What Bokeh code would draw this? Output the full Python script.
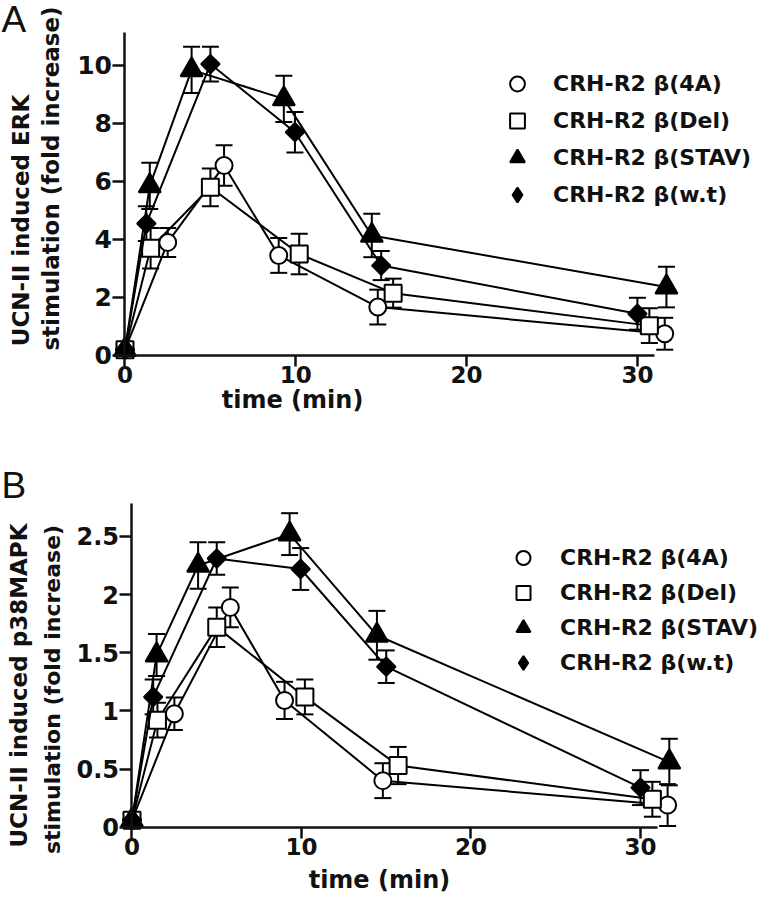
import math
from bokeh.plotting import figure
from bokeh.models import (ColumnDataSource, Whisker, TeeHead, Legend, LegendItem,
                          Label, Range1d, FixedTicker)
from bokeh.layouts import column
from bokeh.embed import file_html
from bokeh.resources import INLINE

# ---------------- data ----------------
series_names = ["CRH-R2 β(4A)", "CRH-R2 β(Del)", "CRH-R2 β(STAV)", "CRH-R2 β(w.t)"]

# sampling times (min), slightly staggered per series as in the figure
time_4A = [0, 2.5, 5.8, 9.0, 14.8, 31.6]
time_Del = [0, 1.5, 5.0, 10.2, 15.7, 30.7]
time_STAV = [0, 1.45, 3.9, 9.3, 14.45, 31.7]
time_wt = [0, 1.25, 5.0, 9.95, 15.0, 30.0]

# Panel A: ERK stimulation (fold increase)
erk_4A = [0.2, 3.9, 6.55, 3.45, 1.67, 0.75]
erk_4A_err = [0, 0.5, 0.7, 0.6, 0.6, 0.55]
erk_Del = [0.2, 3.7, 5.8, 3.5, 2.15, 1.03]
erk_Del_err = [0, 0.7, 0.65, 0.7, 0.5, 0.6]
erk_STAV = [0.2, 5.85, 9.85, 8.85, 4.14, 2.36]
erk_STAV_err = [0, 0.8, 0.8, 0.8, 0.75, 0.7]
erk_wt = [0.2, 4.55, 10.05, 7.7, 3.1, 1.44]
erk_wt_err = [0, 0.6, 0.6, 0.7, 0.5, 0.55]

# Panel B: p38MAPK stimulation (fold increase)
p38_4A = [0.06, 0.975, 1.89, 1.09, 0.40, 0.19]
p38_4A_err = [0, 0.14, 0.17, 0.16, 0.15, 0.18]
p38_Del = [0.06, 0.92, 1.72, 1.12, 0.53, 0.24]
p38_Del_err = [0, 0.15, 0.17, 0.15, 0.16, 0.15]
p38_STAV = [0.06, 1.48, 2.25, 2.52, 1.65, 0.56]
p38_STAV_err = [0, 0.18, 0.2, 0.18, 0.21, 0.2]
p38_wt = [0.06, 1.12, 2.31, 2.22, 1.38, 0.34]
p38_wt_err = [0, 0.15, 0.14, 0.18, 0.14, 0.15]

x_ticks = [0, 10, 20, 30]
erk_ticks = [0, 2, 4, 6, 8, 10]
p38_ticks = [0, 0.5, 1, 1.5, 2, 2.5]
p38_tick_labels = ["0", "0.5", "1", "1.5", "2", "2.5"]

FONT = "DejaVu Sans"
INK = "#111111"

# marker styles for the data: (marker, size, fill, angle)
styles = [
    ("circle", 17, "white", 0.0),
    ("square", 17, "white", 0.0),
    ("triangle", 22, "black", 0.0),
    ("square", 13, "black", math.pi / 4),
]
# legend glyphs (legend ignores marker angle, so the diamond uses the diamond marker)
legend_markers = [("circle", "white"), ("square", "white"),
                  ("triangle", "black"), ("diamond", "black")]


def make_panel(times, values, errs, width, height, xr, yr, ybound,
               yticks, ylabels, ytick_size, xtick_size,
               letter, letter_xy, ylab1, ylab1_xy, ylab1_size, ylab2_xy, ylab2_size,
               xtitle_xy, legend_loc, legend_row, legend_standoff):
    p = figure(width=width, height=height, output_backend="svg", toolbar_location=None,
               title=None, x_range=Range1d(*xr), y_range=Range1d(*yr),
               min_border_left=0, min_border_right=0,
               min_border_top=0, min_border_bottom=0)
    p.outline_line_color = None
    p.grid.visible = False
    p.background_fill_color = "white"

    for ax in (p.xaxis, p.yaxis):
        ax.axis_line_width = 2.5
        ax.axis_line_color = INK
        ax.major_tick_line_width = 2.5
        ax.major_tick_line_color = INK
        ax.major_tick_in = 0
        ax.minor_tick_line_color = None
        ax.major_label_text_font = FONT
        ax.major_label_text_font_style = "bold"
        ax.major_label_text_color = INK
        ax.fixed_location = 0
    p.xaxis.major_tick_out = 11
    p.yaxis.major_tick_out = 12
    p.xaxis.bounds = (0, 31)
    p.yaxis.bounds = (0, ybound)
    p.xaxis.ticker = FixedTicker(ticks=x_ticks)
    p.yaxis.ticker = FixedTicker(ticks=yticks)
    if ylabels is not None:
        p.yaxis.major_label_overrides = {t: l for t, l in zip(yticks, ylabels)}
    p.xaxis.major_label_text_font_size = xtick_size
    p.yaxis.major_label_text_font_size = ytick_size
    p.xaxis.major_label_standoff = 0
    p.yaxis.major_label_standoff = 1

    items = []
    for name, t, v, e, (mk, sz, fill, ang), (lmk, lfill) in zip(
            series_names, times, values, errs, styles, legend_markers):
        src = ColumnDataSource(dict(t=t, v=v))
        p.line("t", "v", source=src, line_color="black", line_width=2)
        tt = [a for a, b in zip(t, e) if b > 0]
        vv = [a for a, b in zip(v, e) if b > 0]
        ee = [b for b in e if b > 0]
        wsrc = ColumnDataSource(dict(t=tt, up=[a + b for a, b in zip(vv, ee)],
                                     lo=[a - b for a, b in zip(vv, ee)]))
        w = Whisker(source=wsrc, base="t", upper="up", lower="lo",
                    line_width=2, line_color="black",
                    upper_head=TeeHead(size=17, line_width=2, line_color="black"),
                    lower_head=TeeHead(size=17, line_width=2, line_color="black"))
        p.add_layout(w)
        p.scatter("t", "v", source=src, marker=mk, size=sz, angle=ang,
                  fill_color=fill, line_color="black", line_width=2)
        # legend-only renderer (a single NaN point, never drawn in the plot)
        lr = p.scatter(x=[float("nan")], y=[float("nan")], marker=lmk, fill_color=lfill,
                       line_color="black", line_width=2)
        items.append(LegendItem(label=name, renderers=[lr]))

    leg = Legend(items=items, location=legend_loc, border_line_color=None,
                 background_fill_alpha=0, label_text_font=FONT,
                 label_text_font_style="bold", label_text_font_size="22px",
                 label_text_color=INK,
                 glyph_width=48, glyph_height=legend_row, label_height=legend_row,
                 spacing=0, label_standoff=legend_standoff,
                 padding=0, margin=0)
    p.add_layout(leg)

    p.add_layout(Label(x=letter_xy[0], y=letter_xy[1], text=letter,
                       text_font="Liberation Sans", text_font_size="37px",
                       text_baseline="middle", text_align="left", text_color=INK))
    p.add_layout(Label(x=ylab1_xy[0], y=ylab1_xy[1], text=ylab1, angle=math.pi / 2,
                       text_font=FONT, text_font_style="bold", text_font_size=ylab1_size,
                       text_align="center", text_baseline="middle", text_color=INK))
    p.add_layout(Label(x=ylab2_xy[0], y=ylab2_xy[1], text="stimulation (fold increase)",
                       angle=math.pi / 2,
                       text_font=FONT, text_font_style="bold", text_font_size=ylab2_size,
                       text_align="center", text_baseline="middle", text_color=INK))
    p.add_layout(Label(x=xtitle_xy[0], y=xtitle_xy[1], text="time (min)",
                       text_font=FONT, text_font_style="bold", text_font_size="24px",
                       text_align="center", text_baseline="middle", text_color=INK))
    return p


pA = make_panel(
    [time_4A, time_Del, time_STAV, time_wt],
    [erk_4A, erk_Del, erk_STAV, erk_wt],
    [erk_4A_err, erk_Del_err, erk_STAV_err, erk_wt_err],
    width=769, height=440,
    xr=(-7.289, 37.734), yr=(-2.931, 12.241), ybound=11.15,
    yticks=erk_ticks, ylabels=None, ytick_size="25px", xtick_size="23px",
    letter="A", letter_xy=(-7.23, 11.60),
    ylab1="UCN-II induced ERK", ylab1_xy=(-6.118, 4.655), ylab1_size="23px",
    ylab2_xy=(-4.333, 6.103), ylab2_size="23px",
    xtitle_xy=(9.81, -1.55), legend_loc=(493, 227), legend_row=37, legend_standoff=12)

pB = make_panel(
    [time_4A, time_Del, time_STAV, time_wt],
    [p38_4A, p38_Del, p38_STAV, p38_wt],
    [p38_4A_err, p38_Del_err, p38_STAV_err, p38_wt_err],
    width=769, height=459,
    xr=(-7.758, 37.611), yr=(-0.622, 3.325), ybound=2.78,
    yticks=p38_ticks, ylabels=p38_tick_labels, ytick_size="24px", xtick_size="23px",
    letter="B", letter_xy=(-7.70, 2.938),
    ylab1="UCN-II induced p38MAPK", ylab1_xy=(-6.696, 1.218), ylab1_size="23px",
    ylab2_xy=(-4.661, 1.184), ylab2_size="22px",
    xtitle_xy=(14.6, -0.458), legend_loc=(499, 219), legend_row=35, legend_standoff=13)

layout = column(pA, pB)
open("out.html", "w").write(file_html(layout, INLINE))
